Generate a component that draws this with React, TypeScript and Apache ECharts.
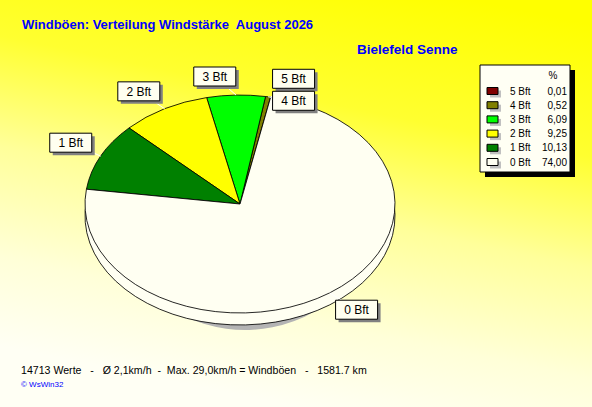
import React, { useEffect, useRef } from "react";
import * as echarts from "echarts";

// wind force classes, share of gust readings in percent
const names = ["5 Bft", "4 Bft", "3 Bft", "2 Bft", "1 Bft", "0 Bft"];
const shares = [0.01, 0.52, 6.09, 9.25, 10.13, 74.0];
const colors = ["#800000", "#808000", "#00FF00", "#FFFF00", "#008000", "#FFFFF2"];

const titleText = "Windböen: Verteilung Windstärke  August 2026";
const stationText = "Bielefeld Senne";
const footerText = "14713 Werte   -   Ø 2,1km/h  -  Max. 29,0km/h = Windböen   -   1581.7 km";
const creditText = "© WsWin32";

// pie geometry (tilted disc)
const CX = 240;
const CY = 204;
const RX = 155;
const RY = 109;
const DEPTH = 12;
const START_DEG = 78.6;
const BOX_W = 42;
const BOX_H = 19;
const FONT = "Liberation Sans, Arial, sans-serif";

const total = shares.reduce((a, b) => a + b, 0);
let acc = 0;
const slices = shares.map((v) => {
  const a0 = START_DEG + (acc / total) * 360;
  acc += v;
  const a1 = START_DEG + (acc / total) * 360;
  return { a0, a1 };
});

// label boxes sit outside the disc, pushed apart when they collide
const labels: { x: number; y: number; ex: number; ey: number }[] = [];
slices.forEach((s) => {
  const mid = (((s.a0 + s.a1) / 2) * Math.PI) / 180;
  const c = Math.cos(mid);
  const sn = Math.sin(mid);
  let x = CX + 1.2 * RX * c + Math.sign(c) * (BOX_W / 2) * (1 - Math.abs(c));
  let y = CY - 1.17 * RY * sn - Math.sign(sn) * (BOX_H / 2) * (1 - Math.abs(sn));
  for (const b of labels) {
    if (Math.abs(b.x - x) < BOX_W + 2 && Math.abs(b.y - y) < BOX_H + 2) {
      y = b.y + BOX_H + 3;
      x = Math.max(x, b.x);
    }
  }
  labels.push({ x, y, ex: CX + RX * c, ey: CY - RY * sn });
});

const fmt = (v: number) => v.toFixed(2).replace(".", ",");

const App: React.FC = () => {
  const chartRef = useRef<HTMLDivElement>(null);

  useEffect(() => {
    document.body.style.margin = "0";
    if (!chartRef.current) return;
    const chart = echarts.init(chartRef.current, null, { renderer: "svg" });

    const rowY = (i: number) => 91 + i * 14.2;
    const legend: any[] = [
      { type: "rect", shape: { x: 485, y: 70, width: 90, height: 107 }, style: { fill: "#000" } },
      {
        type: "rect",
        shape: { x: 480, y: 65, width: 90, height: 107 },
        style: { fill: "#FFFFF4", stroke: "#000", lineWidth: 1 },
      },
      {
        type: "text",
        x: 553,
        y: 75,
        style: { text: "%", fill: "#000", font: `10px ${FONT}`, align: "center", verticalAlign: "middle" },
      },
    ];
    names.forEach((n, i) => {
      const y = rowY(i);
      legend.push(
        { type: "rect", shape: { x: 490, y: y - 0.5, width: 11, height: 7 }, style: { fill: "#C0C0C0" } },
        {
          type: "rect",
          shape: { x: 487, y: y - 3.5, width: 11, height: 7 },
          style: { fill: colors[i], stroke: "#000", lineWidth: 1 },
        },
        {
          type: "text",
          x: 510,
          y,
          style: { text: n, fill: "#000", font: `10px ${FONT}`, align: "left", verticalAlign: "middle" },
        },
        {
          type: "text",
          x: 567,
          y,
          style: { text: fmt(shares[i]), fill: "#000", font: `10px ${FONT}`, align: "right", verticalAlign: "middle" },
        }
      );
    });

    const sector = (i: number, dx: number, dy: number, r: number, ry: number, z2: number, style: any) => ({
      type: "sector",
      x: CX + dx,
      y: CY + dy,
      scaleY: ry / r,
      shape: {
        cx: 0,
        cy: 0,
        r,
        r0: 0,
        startAngle: (-slices[i].a1 * Math.PI) / 180,
        endAngle: (-slices[i].a0 * Math.PI) / 180,
        clockwise: true,
      },
      style: { ...style, strokeNoScale: true },
      z2,
    });

    const option = {
      animation: false,
      graphic: [
        {
          type: "rect",
          z: -10,
          shape: { x: 0, y: 0, width: 592, height: 407 },
          style: {
            fill: new echarts.graphic.LinearGradient(0.8, 0, 0.5, 1, [
              { offset: 0, color: "#FFFF00" },
              { offset: 0.3, color: "#FFFF30" },
              { offset: 0.55, color: "#FFFF9A" },
              { offset: 0.8, color: "#FFFFD8" },
              { offset: 1, color: "#FFFFF4" },
            ]),
          },
        },
        {
          type: "text",
          left: 22,
          top: 18,
          style: { text: titleText, fill: "#0000FF", font: `bold 13px ${FONT}` },
        },
        {
          type: "text",
          left: 357,
          top: 42,
          style: { text: stationText, fill: "#0000FF", font: `bold 13.5px ${FONT}` },
        },
        {
          type: "text",
          left: 21,
          top: 364,
          style: { text: footerText, fill: "#000", font: `10.6px ${FONT}` },
        },
        {
          type: "text",
          left: 21,
          top: 380,
          style: { text: creditText, fill: "#0000FF", font: `8px ${FONT}` },
        },
        ...legend,
      ],
      series: [
        {
          type: "custom",
          coordinateSystem: "none",
          data: shares,
          renderItem: (params: any) => {
            const i = params.dataIndex;
            const lb = labels[i];
            return {
              type: "group",
              children: [
                sector(i, 5, DEPTH + 14, 120, 100, 0, { fill: "#B4B4B4" }),
                sector(i, 0, DEPTH, RX, RY, 1, { fill: colors[i], stroke: "#000", lineWidth: 1 }),
                sector(i, 0, 0, RX, RY, 5, { fill: colors[i], stroke: "#000", lineWidth: 1 }),
                {
                  type: "line",
                  shape: { x1: lb.ex, y1: lb.ey, x2: lb.x, y2: lb.y },
                  style: { stroke: "#FFFFFF", lineWidth: 1 },
                  z2: 8,
                },
                {
                  type: "rect",
                  shape: { x: lb.x - BOX_W / 2 + 3, y: lb.y - BOX_H / 2 + 3, width: BOX_W, height: BOX_H },
                  style: { fill: "#808080" },
                  z2: 10 + i * 3,
                },
                {
                  type: "rect",
                  shape: { x: lb.x - BOX_W / 2, y: lb.y - BOX_H / 2, width: BOX_W, height: BOX_H },
                  style: { fill: "#FFFFF0", stroke: "#000", lineWidth: 1 },
                  z2: 11 + i * 3,
                },
                {
                  type: "text",
                  x: lb.x,
                  y: lb.y + 0.5,
                  style: {
                    text: names[i],
                    fill: "#000",
                    font: `12px ${FONT}`,
                    align: "center",
                    verticalAlign: "middle",
                  },
                  z2: 12 + i * 3,
                },
              ],
            };
          },
        },
      ],
    };

    chart.setOption(option as any);
    return () => {
      chart.dispose();
    };
  }, []);

  return <div ref={chartRef} style={{ width: 592, height: 407 }} />;
};

export default App;
